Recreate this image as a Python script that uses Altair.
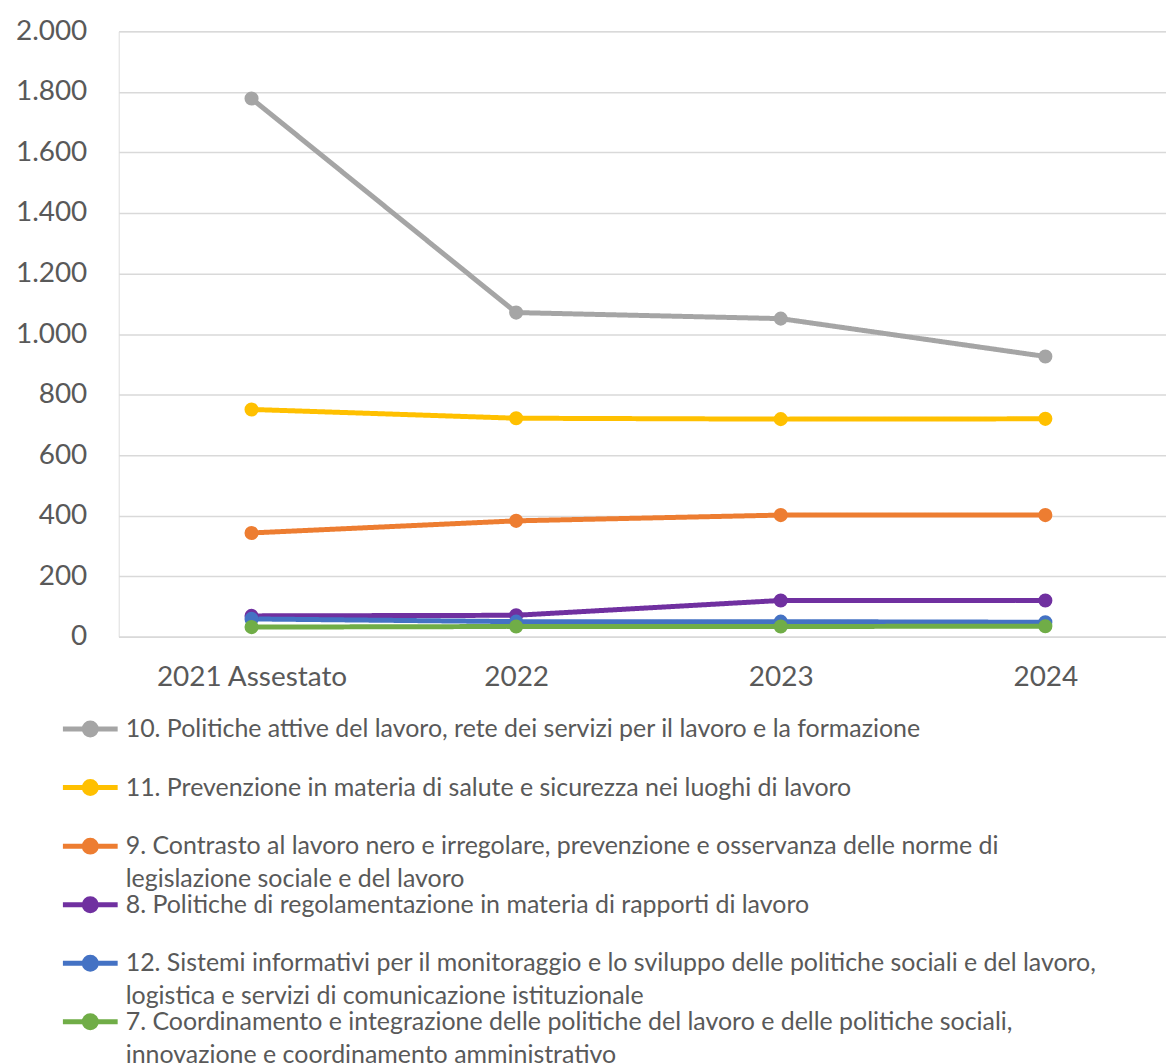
import altair as alt
import pandas as pd

years = ["2021 Assestato", "2022", "2023", "2024"]

# legend order (also drawing order)
series_labels = [
    "10. Politiche attive del lavoro, rete dei servizi per il lavoro e la formazione",
    "11. Prevenzione in materia di salute e sicurezza nei luoghi di lavoro",
    "9. Contrasto al lavoro nero e irregolare, prevenzione e osservanza delle norme di",
    "8. Politiche di regolamentazione in materia di rapporti di lavoro",
    "12. Sistemi informativi per il monitoraggio e lo sviluppo delle politiche sociali e del lavoro,",
    "7. Coordinamento e integrazione delle politiche del lavoro e delle politiche sociali,",
]
# second line of the wrapped legend labels (keyed "number|text")
series_label_cont = [
    "10|",
    "11|",
    "9|legislazione sociale e del lavoro",
    "8|",
    "12|logistica e servizi di comunicazione istituzionale",
    "7|innovazione e coordinamento amministrativo",
]
series_colors = ["#A5A5A5", "#FFC000", "#ED7D31", "#7030A0", "#4472C4", "#70AD47"]

values_10 = [1778, 1071, 1051, 926]
values_11 = [751, 722, 719, 720]
values_9 = [343, 383, 402, 402]
values_8 = [69, 71, 120, 120]
values_12 = [59, 50, 50, 48]
values_7 = [32, 34, 34, 35]
all_values = [values_10, values_11, values_9, values_8, values_12, values_7]

y_ticks = list(range(0, 2001, 200))

rows = []
for order, (lab, cont, vals) in enumerate(zip(series_labels, series_label_cont, all_values)):
    for yr, v in zip(years, vals):
        rows.append({"anno": yr, "serie": lab, "riga2": cont, "valore": v, "ordine": order})
df = pd.DataFrame(rows)

FONT = "Lato"
TXT = "#595959"
GRID = "#D9D9D9"

symbol_path = (
    "M-1.83,0H1.83"
    "M0.4,0A0.4,0.4,0,1,1,-0.4,0A0.4,0.4,0,1,1,0.4,0"
    "M0.25,0A0.25,0.25,0,1,1,-0.25,0A0.25,0.25,0,1,1,0.25,0"
    "M0.1,0A0.1,0.1,0,1,1,-0.1,0A0.1,0.1,0,1,1,0.1,0"
)

LEG_X = -46
LEG_Y = 682
LINE_GAP = 33
ROW_PAD = 0.7

legend_common = dict(
    title=None,
    orient="none",
    legendX=LEG_X,
    direction="vertical",
    symbolType=symbol_path,
    symbolSize=900,
    symbolStrokeWidth=5,
    labelFont=FONT,
    labelFontSize=25,
    labelColor=TXT,
    labelLimit=1100,
    labelOffset=18,
    rowPadding=ROW_PAD,
    gridAlign="all",
    padding=0,
)

chart = (
    alt.Chart(df)
    .mark_line(strokeWidth=5, point=alt.OverlayMarkDef(filled=True, size=200, opacity=1))
    .encode(
        x=alt.X(
            "anno:N",
            sort=years,
            title=None,
            scale=alt.Scale(type="point", padding=0.479, align=0.524),
            axis=alt.Axis(
                labelAngle=0,
                labelFontSize=28,
                labelFont=FONT,
                labelColor=TXT,
                labelLimit=400,
                ticks=False,
                domainColor=GRID,
                domainWidth=1.5,
                labelPadding=27,
                grid=False,
            ),
        ),
        y=alt.Y(
            "valore:Q",
            title=None,
            scale=alt.Scale(domain=[0, 2000], nice=False),
            axis=alt.Axis(
                values=y_ticks,
                labelExpr="replace(format(datum.value, ','), ',', '.')",
                labelFontSize=28,
                labelFont=FONT,
                labelColor=TXT,
                ticks=False,
                domain=False,
                gridColor=GRID,
                gridWidth=1.5,
                labelPadding=32,
            ),
        ),
        color=alt.Color(
            "serie:N",
            scale=alt.Scale(domain=series_labels, range=series_colors),
            sort=series_labels,
            legend=alt.Legend(
                legendY=LEG_Y,
                labelExpr="[datum.label, ' ']",
                **legend_common,
            ),
        ),
        strokeDash=alt.StrokeDash(
            "riga2:N",
            scale=alt.Scale(domain=series_label_cont, range=[[1, 0]] * len(series_label_cont)),
            sort=series_label_cont,
            legend=alt.Legend(
                legendY=LEG_Y + LINE_GAP,
                labelExpr="[split(datum.label, '|')[1] || ' ', ' ']",
                symbolOpacity=0,
                **legend_common,
            ),
        ),
        order=alt.Order("ordine:Q"),
    )
    .properties(
        width=1050,
        height=607,
        padding={"left": 7, "top": 8, "right": 0, "bottom": 0},
    )
    .configure_view(stroke=None)
    .configure(background="white")
)

chart.save("out.html", embed_options={"renderer": "svg", "actions": False})
